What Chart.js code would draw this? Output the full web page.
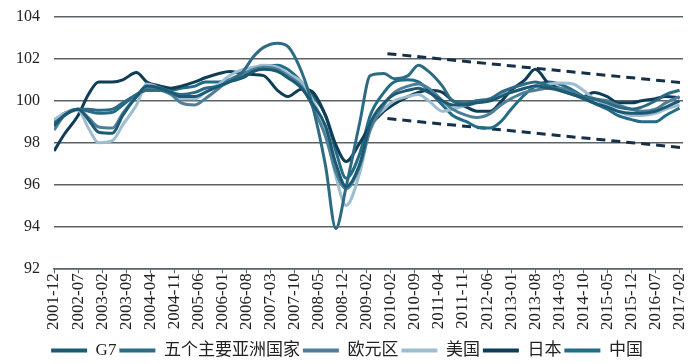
<!DOCTYPE html>
<html>
<head>
<meta charset="utf-8">
<script src="https://cdn.jsdelivr.net/npm/chart.js@4.4.1/dist/chart.umd.min.js"></script>
<style>
    html, body { margin: 0; padding: 0; background: #fff; }
</style>
</head>
<body>
<canvas id="grafico" width="700" height="364"></canvas>
<script>
// tick labels as printed under the x axis (one every 7 months from 2001-12)
const tickLabels = ['2001-12', '2002-07', '2003-02', '2003-09', '2004-04', '2004-11', '2005-06',
    '2006-01', '2006-08', '2007-03', '2007-10', '2008-05', '2008-12', '2009-02', '2010-02',
    '2010-09', '2011-04', '2011-11', '2012-06', '2013-01', '2013-08', '2014-03', '2014-10',
    '2015-05', '2015-12', '2016-07', '2017-02'];

// months after 2001-12 at which the values were read
const months = [0, 3, 7, 10, 13, 17, 20, 24, 27, 31, 34, 37, 41, 44, 48, 51, 55, 58, 61, 65,
    68, 72, 75, 79, 82, 85, 89, 92, 96, 99, 103, 106, 109, 113, 116, 120, 123, 127, 130, 133,
    137, 140, 144, 147, 151, 154, 157, 161, 164, 168, 171, 175, 178, 182];

const seriesNames = ['G7', '五个主要亚洲国家', '欧元区', '美国', '日本', '中国'];
const seriesColors = ['#1c5a73', '#2d6a84', '#4f7f98', '#9dbdd0', '#0f3d57', '#236c86'];

const g7 = [98.8, 99.3, 99.6, 99.1, 98.5, 98.45, 99.3, 100.2, 100.7, 100.6,
    100.4, 100.2, 100.2, 100.4, 100.7, 100.9, 101.1, 101.4, 101.5, 101.4,
    101.1, 100.6, 99.9, 98.8, 97.0, 95.9, 97.0, 98.9, 99.9, 100.3,
    100.5, 100.6, 100.4, 100.0, 99.8, 99.8, 99.9, 100.0, 100.2, 100.4,
    100.6, 100.7, 100.6, 100.5, 100.3, 100.1, 99.9, 99.7, 99.5, 99.4,
    99.4, 99.5, 99.7, 100.0];
const asia5 = [98.9, 99.3, 99.6, 99.6, 99.55, 99.6, 99.9, 100.3, 100.5, 100.5,
    100.4, 100.3, 100.4, 100.6, 100.7, 100.9, 101.4, 102.1, 102.55, 102.75,
    102.6, 101.4, 99.9, 96.9, 93.9, 95.9, 99.0, 101.2, 101.3, 101.05,
    101.2, 101.7, 101.4, 100.7, 100.0, 99.9, 100.0, 100.1, 100.4, 100.6,
    100.8, 100.9, 100.7, 100.5, 100.3, 100.2, 100.1, 99.9, 99.7, 99.6,
    99.7, 100.0, 100.3, 100.5];
const euro = [98.6, 99.3, 99.6, 99.2, 98.75, 98.7, 99.4, 100.2, 100.6, 100.5,
    100.3, 99.9, 99.8, 100.1, 100.6, 101.0, 101.3, 101.5, 101.6, 101.5,
    101.2, 100.7, 99.8, 98.3, 96.6, 95.8, 96.9, 98.6, 99.8, 100.4,
    100.7, 100.8, 100.6, 100.0, 99.6, 99.3, 99.2, 99.4, 99.8, 100.1,
    100.4, 100.5, 100.6, 100.6, 100.4, 100.2, 100.1, 100.0, 99.8, 99.6,
    99.5, 99.6, 99.9, 100.2];
const usa = [99.1, 99.4, 99.55, 98.7, 98.0, 98.1, 98.85, 99.8, 100.8, 100.6,
    100.4, 100.1, 100.1, 100.4, 100.8, 101.2, 101.5, 101.6, 101.7, 101.6,
    101.3, 100.9, 100.1, 98.6, 96.4, 95.0, 96.6, 98.7, 99.6, 100.0,
    100.2, 100.3, 100.0, 99.5, 99.6, 99.8, 100.0, 100.1, 100.3, 100.4,
    100.6, 100.7, 100.8, 100.85, 100.8, 100.5, 100.1, 99.8, 99.5, 99.3,
    99.3, 99.4, 99.6, 99.8];
const japan = [97.6, 98.4, 99.3, 100.3, 100.9, 100.9, 101.0, 101.35, 100.9, 100.7,
    100.6, 100.7, 100.9, 101.1, 101.3, 101.4, 101.3, 101.25, 101.2, 100.5,
    100.2, 100.55, 100.45, 99.3, 97.9, 97.1, 98.0, 98.8, 99.5, 99.85,
    100.2, 100.4, 100.5, 100.4, 100.0, 99.7, 99.5, 99.5, 99.95, 100.5,
    101.0, 101.5, 100.8, 100.6, 100.3, 100.2, 100.4, 100.2, 99.9, 99.9,
    100.0, 100.1, 100.2, 100.15];
const china = [99.0, 99.4, 99.6, 99.5, 99.4, 99.45, 99.8, 100.3, 100.5, 100.5,
    100.5, 100.6, 100.7, 100.9, 100.9, 101.0, 101.2, 101.4, 101.6, 101.7,
    101.5, 100.9, 100.3, 99.3, 97.6, 96.3, 97.5, 99.3, 100.4, 100.9,
    101.0, 100.9, 100.5, 99.8, 99.3, 99.0, 98.75, 98.7, 99.0, 99.6,
    100.3, 100.7, 100.9, 100.8, 100.5, 100.2, 99.9, 99.6, 99.3, 99.1,
    99.0, 99.0, 99.3, 99.65];

// dashed channel drawn over 2010-2017
const trendMonths = [97, 183.5];
const trendUpper = [102.25, 100.85];
const trendLower = [99.15, 97.75];

function toPoints(xs, ys) {
    return xs.map((x, i) => ({ x: x, y: ys[i] }));
}

function renderGrafico() {
    const ctx = document.getElementById('grafico');
    const valores = [g7, asia5, euro, usa, japan, china];

    const datasets = valores.map((serie, i) => ({
        label: seriesNames[i],
        data: toPoints(months, serie),
        borderColor: seriesColors[i],
        backgroundColor: seriesColors[i],
        borderWidth: 3,
        pointRadius: 0,
        cubicInterpolationMode: 'monotone'
    }));

    [trendUpper, trendLower].forEach(linha => {
        datasets.push({
            label: '',
            data: toPoints(trendMonths, linha),
            borderColor: '#16304a',
            borderWidth: 3,
            borderDash: [9, 6],
            pointRadius: 0,
            clip: false
        });
    });

    new Chart(ctx, {
        type: 'line',
        data: { datasets: datasets },
        options: {
            responsive: false,
            animation: false,
            layout: { padding: { top: 17, left: 2, right: 8, bottom: -5 } },
            plugins: {
                legend: {
                    position: 'bottom',
                    labels: {
                        boxWidth: 36,
                        boxHeight: 4,
                        padding: 3,
                        color: '#222',
                        font: { family: "'Liberation Serif', 'Noto Sans CJK SC', serif", size: 17 },
                        generateLabels: chart => Chart.defaults.plugins.legend.labels
                            .generateLabels(chart)
                            .filter(item => item.datasetIndex < seriesNames.length)
                            .map(item => Object.assign(item, { lineWidth: 0, fillStyle: item.strokeStyle }))
                    }
                },
                tooltip: { enabled: false }
            },
            scales: {
                x: {
                    type: 'linear',
                    min: 0,
                    max: 183,
                    afterBuildTicks: axis => {
                        axis.ticks = tickLabels.map((_, i) => ({ value: i * 7 }));
                    },
                    afterFit: axis => {
                        axis.height += 9;
                    },
                    ticks: {
                        autoSkip: false,
                        minRotation: 90,
                        maxRotation: 90,
                        padding: 0,
                        color: '#222',
                        font: { family: "'Liberation Serif', serif", size: 17 },
                        callback: value => tickLabels[Math.round(value / 7)]
                    },
                    grid: {
                        drawOnChartArea: false,
                        drawTicks: true,
                        tickLength: 5,
                        color: '#5a6367'
                    },
                    border: { display: true, color: '#5a6367', width: 1.5 }
                },
                y: {
                    min: 92,
                    max: 104,
                    afterFit: axis => {
                        axis.paddingTop = 0;
                        axis.paddingBottom = 0;
                    },
                    ticks: {
                        stepSize: 2,
                        padding: 14,
                        color: '#222',
                        font: { family: "'Liberation Serif', serif", size: 16 }
                    },
                    grid: { color: '#5a6367', lineWidth: 1.5, drawTicks: false },
                    border: { display: false }
                }
            }
        }
    });
}

document.addEventListener('DOMContentLoaded', () => {
    renderGrafico();
});
</script>
</body>
</html>
